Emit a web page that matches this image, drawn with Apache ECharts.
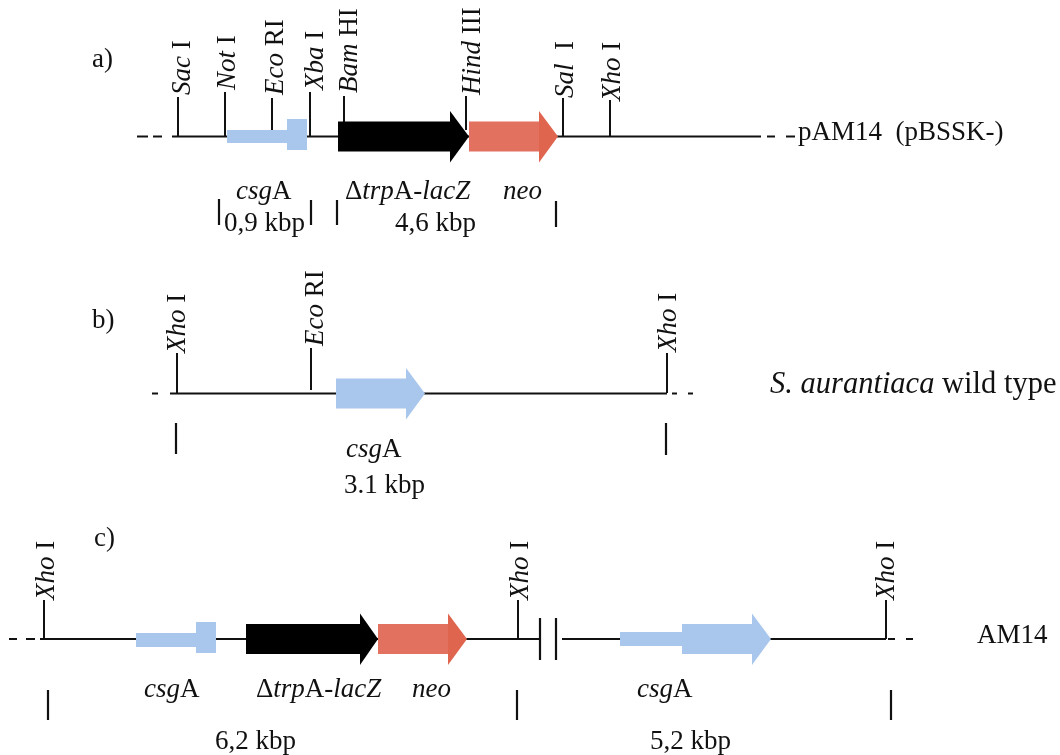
<!DOCTYPE html>
<html><head><meta charset="utf-8">
<style>html,body{margin:0;padding:0;background:#fff}#c{width:1060px;height:755px}</style>
<script src="https://cdn.jsdelivr.net/npm/echarts@6/dist/echarts.min.js"></script>
</head><body><div id="c"></div>
<script>
// Map positions (x along the construct, y = track height)
const trackY = [136.5, 393.5, 639];
// Restriction sites: name, x on track, top of tick, bottom of tick
const siteNames  = ['{i|Sac} I','{i|Not} I','{i|Eco} RI','{i|Xba} I','{i|Bam} HI','{i|Hind} III','{i|Sal}  I','{i|Xho} I',
                    '{i|Xho} I','{i|Eco} RI','{i|Xho} I',
                    '{i|Xho} I','{i|Xho} I','{i|Xho} I'];
const siteX      = [178,225,272,310,344,466,563,610, 177,311,667, 44,518,886];
const siteTop    = [97,92,98,92,96,96,98,100, 353,348,353, 600,600,600];
const siteBottom = [136,136,130,136,122,130,136,136, 393,390,393, 639,639,639];
const siteLabelX = [190,235,283,323,357,480,573,620, 185,323,676, 54,528,894];
const siteLabelY = [95,90,95,90,93,95,98,101, 353,346,352, 600,600,600];
// Baseline segments and dashes: [x1, x2, track index]
const backbone = [[137,148,0],[153,162,0],[172,761,0],[767,775,0],[786,795,0],
                  [152,158,1],[170,667,1],[672,677,1],[688,693,1],
                  [9,17,2],[26,35,2],[40,539,2],[562,886,2],[888,895,2],[906,913,2]];
// Size brackets below the tracks and the break bars: [x, y1, y2]
const brackets = [[219,199,225],[311,200,225],[337,200,225],[556,201,227],
                  [176,423,454],[666,423,455],
                  [48,690,720],[517,690,720],[891,690,720],
                  [540,618,660],[556,618,660]];
// Gene rectangles: [x1, x2, y1, y2, colour index]
const geneBlocks = [[227,287,130,143,0],[287,307,119,150,0],
                    [136,196,633,647,0],[196,216,622,653,0],
                    [620,682,632,646,0]];
// Gene arrows: [x start, head start, tip, track index, colour index]
const geneArrows = [[338,450,469,0,1],[469,539,558,0,2],
                    [336,406,425,1,0],
                    [246,360,378,2,1],[378,448,467,2,2],[682,752,771,2,0]];
const geneColours = ['#A9C6EC','#000000','#E37160'];
const headColours = ['#A9C6EC','#000000','#E0654F'];
// Horizontal labels: text, left x, baseline y
const labelTexts = ['a)','b)','c)',
  '{i|csg}A','Δ{i|trp}A-{i|lacZ}','{i|neo}','0,9 kbp','4,6 kbp','pAM14  (pBSSK-)',
  '{i|csg}A','3.1 kbp','{i|S. aurantiaca} wild type',
  '{i|csg}A','Δ{i|trp}A-{i|lacZ}','{i|neo}','6,2 kbp','{i|csg}A','5,2 kbp','AM14'];
const labelX = [92,92,94, 236,345,503,224,395,798, 346,344,770, 144,256,412,215,637,650,977];
const labelY = [67,328,546, 199,199,199,231,231,140, 457,493,392, 697,697,697,749,697,749,643];
const labelScale = [1,1,1, 1,1,1,1,1,1, 1,1,1.13, 1,1,1,1,1,1,1];

const FONT = '"Liberation Serif","Times New Roman",serif';
const SIZE = 27;
function richText(t){
  return {text:t, fontFamily:FONT, fontSize:SIZE, fill:'#111', x:0, y:0, align:'left', verticalAlign:'middle',
    rich:{i:{fontStyle:'italic', fontFamily:FONT, fontSize:SIZE, fill:'#111'}}};
}
const blockData = geneBlocks.map(b=>b.slice());
const arrowData = geneArrows.map(a=>a.slice());
const segs = backbone.map(b=>[b[0],trackY[b[2]],b[1],trackY[b[2]],2])
  .concat(siteX.map((x,i)=>[x,siteTop[i],x,siteBottom[i],2]))
  .concat(brackets.map(b=>[b[0],b[1],b[0],b[2],2.2]));

const option = {
  animation:false, backgroundColor:'#fff',
  grid:{left:0,right:0,top:0,bottom:0},
  xAxis:{type:'value',min:0,max:1060,show:false},
  yAxis:{type:'value',min:0,max:755,inverse:true,show:false},
  tooltip:{show:false},
  series:[
    {type:'custom',coordinateSystem:'cartesian2d',silent:true,clip:false,z:1,data:segs,
     encode:{x:[0,2],y:[1,3]},
     renderItem:(p,api)=>{
       const a=api.coord([api.value(0),api.value(1)]), b=api.coord([api.value(2),api.value(3)]);
       return {type:'line',shape:{x1:a[0],y1:a[1],x2:b[0],y2:b[1]},style:{stroke:'#111',lineWidth:api.value(4)}};
     }},
    {type:'custom',coordinateSystem:'cartesian2d',silent:true,clip:false,z:2,data:blockData,
     encode:{x:[0,1],y:[2,3]},
     renderItem:(p,api)=>{
       const a=api.coord([api.value(0),api.value(2)]), b=api.coord([api.value(1),api.value(3)]);
       return {type:'rect',shape:{x:a[0],y:a[1],width:b[0]-a[0],height:b[1]-a[1]},style:{fill:geneColours[api.value(4)]}};
     }},
    {type:'custom',coordinateSystem:'cartesian2d',silent:true,clip:false,z:3,data:arrowData,
     encode:{x:[0,2]},
     renderItem:(p,api)=>{
       const x0=api.value(0),xh=api.value(1),xt=api.value(2),y=trackY[api.value(3)],k=api.value(4);
       const shaft=[[x0,y-15],[xh,y-15],[xh,y+15],[x0,y+15]].map(q=>api.coord(q));
       const head=[[xh,y-25.5],[xt,y],[xh,y+26]].map(q=>api.coord(q));
       return {type:'group',children:[
         {type:'polygon',shape:{points:shaft},style:{fill:geneColours[k]}},
         {type:'polygon',shape:{points:head},style:{fill:headColours[k]}}]};
     }},
    {type:'custom',coordinateSystem:'cartesian2d',silent:true,clip:false,z:4,
     data:labelX.map((x,i)=>[x,labelY[i]]),encode:{x:0,y:1},
     renderItem:(p,api)=>{
       const c=api.coord([api.value(0),api.value(1)]), s=labelScale[p.dataIndex];
       return {type:'text',x:c[0],y:c[1]-7,scaleX:s,scaleY:s,style:richText(labelTexts[p.dataIndex])};
     }},
    {type:'custom',coordinateSystem:'cartesian2d',silent:true,clip:false,z:4,
     data:siteLabelX.map((x,i)=>[x,siteLabelY[i]]),encode:{x:0,y:1},
     renderItem:(p,api)=>{
       const c=api.coord([api.value(0),api.value(1)]);
       return {type:'text',x:c[0]-7,y:c[1],rotation:Math.PI/2,style:richText(siteNames[p.dataIndex])};
     }}
  ]
};
echarts.init(document.getElementById('c'),null,{renderer:'canvas'}).setOption(option);
</script></body></html>
